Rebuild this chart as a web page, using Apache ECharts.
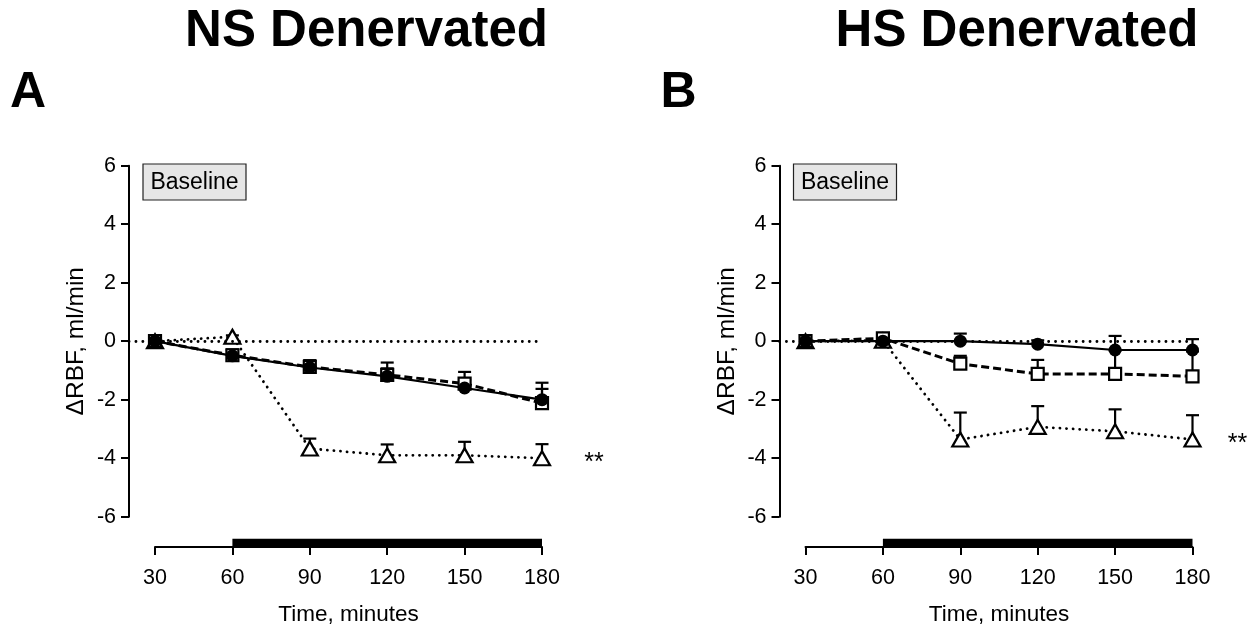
<!DOCTYPE html>
<html>
<head>
<meta charset="utf-8">
<script src="https://cdn.jsdelivr.net/npm/echarts@6/dist/echarts.min.js"></script>
<style>
html,body{margin:0;padding:0;background:#fff;}
#chart{width:1252px;height:632px;}
</style>
</head>
<body>
<div id="chart"></div>
<script>
// ---- data ----
const times = [30, 60, 90, 120, 150, 180];
const treatmentPeriod = [60, 180];
const panelTitles = ['NS Denervated', 'HS Denervated'];
const panelLetters = ['A', 'B'];

// Panel A (NS Denervated)
const nsCircle      = [0, -0.50, -0.90, -1.20, -1.60, -2.00];
const nsCircleSem   = [0,  0.20,  0.25,  0.27,  0.29,  0.37];
const nsSquare      = [0, -0.48, -0.88, -1.15, -1.45, -2.12];
const nsSquareSem   = [0,  0.20,  0.22,  0.42,  0.40,  0.70];
const nsTriangle    = [0,  0.15, -3.67, -3.90, -3.90, -4.00];
const nsTriangleSem = [0,  0.05,  0.34,  0.37,  0.46,  0.48];

// Panel B (HS Denervated)
const hsCircle      = [0,  0.00,  0.00, -0.10, -0.30, -0.30];
const hsCircleSem   = [0,  0.05,  0.26,  0.13,  0.48,  0.37];
const hsSquare      = [0,  0.10, -0.77, -1.12, -1.12, -1.20];
const hsSquareSem   = [0,  0.10,  0.27,  0.48,  0.80,  0.85];
const hsTriangle    = [0,  0.02, -3.36, -2.93, -3.08, -3.36];
const hsTriangleSem = [0,  0.05,  0.92,  0.71,  0.75,  0.83];

const yName = '\u0394RBF, ml/min';
const xName = 'Time, minutes';
const boxText = 'Baseline';
const sigText = '**';

// ---- layout ----
const FONT = '"Liberation Sans", Arial, Helvetica, sans-serif';
const panels = [
  {left: 129, sigDist: 33, data: [nsCircle, nsCircleSem, nsSquare, nsSquareSem, nsTriangle, nsTriangleSem]},
  {left: 779.5, sigDist: 26, data: [hsCircle, hsCircleSem, hsSquare, hsSquareSem, hsTriangle, hsTriangleSem]}
];
const PLOT_TOP = 165.7, PLOT_H = 351, PX_PER_30 = 77.4;
const Y_OFFSET_PX = 26; // gap between y axis and first time point
const padMin = 30 - Y_OFFSET_PX / PX_PER_30 * 30;
const plotW = PX_PER_30 * 5 + Y_OFFSET_PX;

const pairs = (ys) => times.map((t, i) => [t, ys[i]]);
const errPairs = (ys, sem) => times.map((t, i) => [t, ys[i], ys[i] + sem[i]]);

function errRender(params, api) {
  const x = api.value(0), y = api.value(1), top = api.value(2);
  if (top - y < 1e-6) return null;
  const p1 = api.coord([x, y]);
  const p2 = api.coord([x, top]);
  const hw = 6.5;
  return {
    type: 'group',
    children: [
      {type: 'line', shape: {x1: p1[0], y1: p1[1], x2: p2[0], y2: p2[1]}, style: {stroke: '#000', lineWidth: 2.2}},
      {type: 'line', shape: {x1: p2[0] - hw, y1: p2[1], x2: p2[0] + hw, y2: p2[1]}, style: {stroke: '#000', lineWidth: 2.2}}
    ]
  };
}

const grid = [], xAxis = [], yAxis = [], series = [], graphic = [];

panels.forEach((p, k) => {
  const gMain = k * 2, gAx = k * 2 + 1;
  grid.push({left: p.left, top: PLOT_TOP, width: plotW, height: PLOT_H, containLabel: false});
  grid.push({left: p.left + Y_OFFSET_PX, top: 537, width: PX_PER_30 * 5, height: 10, containLabel: false});

  xAxis.push({gridIndex: gMain, type: 'value', min: padMin, max: 180, show: false});
  xAxis.push({
    gridIndex: gAx, type: 'value', min: 30, max: 180, interval: 30,
    axisLine: {show: true, onZero: false, lineStyle: {color: '#000', width: 2}},
    axisTick: {show: true, inside: false, length: 8, lineStyle: {color: '#000', width: 2}},
    axisLabel: {color: '#000', fontSize: 21.5, fontFamily: FONT, margin: 20},
    splitLine: {show: false},
    name: xName, nameLocation: 'middle', nameGap: 56, nameMoveOverlap: false,
    nameTextStyle: {color: '#000', fontSize: 22.5, fontFamily: FONT}
  });
  yAxis.push({
    gridIndex: gMain, type: 'value', min: -6, max: 6, interval: 2,
    axisLine: {show: true, lineStyle: {color: '#000', width: 2}},
    axisTick: {show: true, inside: false, length: 8, lineStyle: {color: '#000', width: 2}},
    axisLabel: {color: '#000', fontSize: 21.5, fontFamily: FONT, margin: 13},
    splitLine: {show: false},
    name: yName, nameLocation: 'middle', nameGap: 40, nameRotate: 90, nameMoveOverlap: false,
    nameTextStyle: {color: '#000', fontSize: 24.5, fontFamily: FONT}
  });
  yAxis.push({gridIndex: gAx, type: 'value', min: 0, max: 1, show: false});

  const [c, cs, s, ss, t, ts] = p.data;
  const xi = gMain, yi = gMain;

  // treatment bar
  series.push({
    type: 'line', xAxisIndex: gAx, yAxisIndex: gAx, symbol: 'none', silent: true,
    data: treatmentPeriod.map(v => [v, 0.4]),
    lineStyle: {color: '#000', width: 8.5, cap: 'butt'}, z: 3
  });

  // error bars
  [[t, ts], [s, ss], [c, cs]].forEach(([ys, sem]) => {
    series.push({
      type: 'custom', xAxisIndex: xi, yAxisIndex: yi, renderItem: errRender,
      data: errPairs(ys, sem), z: 2, silent: true, clip: false
    });
  });

  // triangle series (dotted)
  series.push({
    type: 'line', xAxisIndex: xi, yAxisIndex: yi, data: pairs(t).map((d, i) => {
      if (i === times.length - 1) {
        return {value: d, label: {show: true, position: 'right', distance: p.sigDist, offset: [0, 5],
          formatter: sigText, color: '#000', fontSize: 25, fontFamily: FONT}};
      }
      return d;
    }),
    symbol: 'triangle', symbolSize: [16, 14],
    itemStyle: {color: '#fff', borderColor: '#000', borderWidth: 2.2},
    lineStyle: {color: '#000', width: 2.8, type: [0.1, 6.5], cap: 'round'},
    z: 4, silent: true, animation: false,
    markLine: {
      symbol: 'none', silent: true, animation: false, label: {show: false},
      lineStyle: {color: '#000', width: 2.8, type: [0.1, 6.8], cap: 'round'},
      data: [{yAxis: 0}]
    }
  });
  // square series (dashed)
  series.push({
    type: 'line', xAxisIndex: xi, yAxisIndex: yi, data: pairs(s),
    symbol: 'rect', symbolSize: 12,
    itemStyle: {color: '#fff', borderColor: '#000', borderWidth: 2.2},
    lineStyle: {color: '#000', width: 3, type: [8, 4]},
    z: 5, silent: true, animation: false
  });
  // circle series (solid)
  series.push({
    type: 'line', xAxisIndex: xi, yAxisIndex: yi, data: pairs(c),
    symbol: 'circle', symbolSize: 13,
    itemStyle: {color: '#000', borderColor: '#000', borderWidth: 0},
    lineStyle: {color: '#000', width: 2.2},
    z: 6, silent: true, animation: false
  });

  // titles & letters
  const centerX = p.left + Y_OFFSET_PX + PX_PER_30 * 2.5;
  graphic.push({
    type: 'text', x: centerX + 18, y: 32,
    style: {text: panelTitles[k], font: 'bold 51px ' + FONT, fill: '#000', textAlign: 'center', textVerticalAlign: 'middle'}
  });
  graphic.push({
    type: 'text', x: p.left - 119, y: 93,
    style: {text: panelLetters[k], font: 'bold 50px ' + FONT, fill: '#000', textAlign: 'left', textVerticalAlign: 'middle'}
  });
  // baseline box
  graphic.push({
    type: 'group', x: p.left + 14, y: 164,
    children: [
      {type: 'rect', shape: {x: 0, y: 0, width: 103, height: 36},
       style: {fill: '#e6e6e6', stroke: '#222', lineWidth: 1.2}},
      {type: 'text', x: 51.5, y: 18.5,
       style: {text: boxText, font: '23px ' + FONT, fill: '#000', textAlign: 'center', textVerticalAlign: 'middle'}}
    ]
  });
});

const chart = echarts.init(document.getElementById('chart'), null, {renderer: 'canvas'});
chart.setOption({
  backgroundColor: '#fff',
  animation: false,
  grid, xAxis, yAxis, series, graphic
});
</script>
</body>
</html>
